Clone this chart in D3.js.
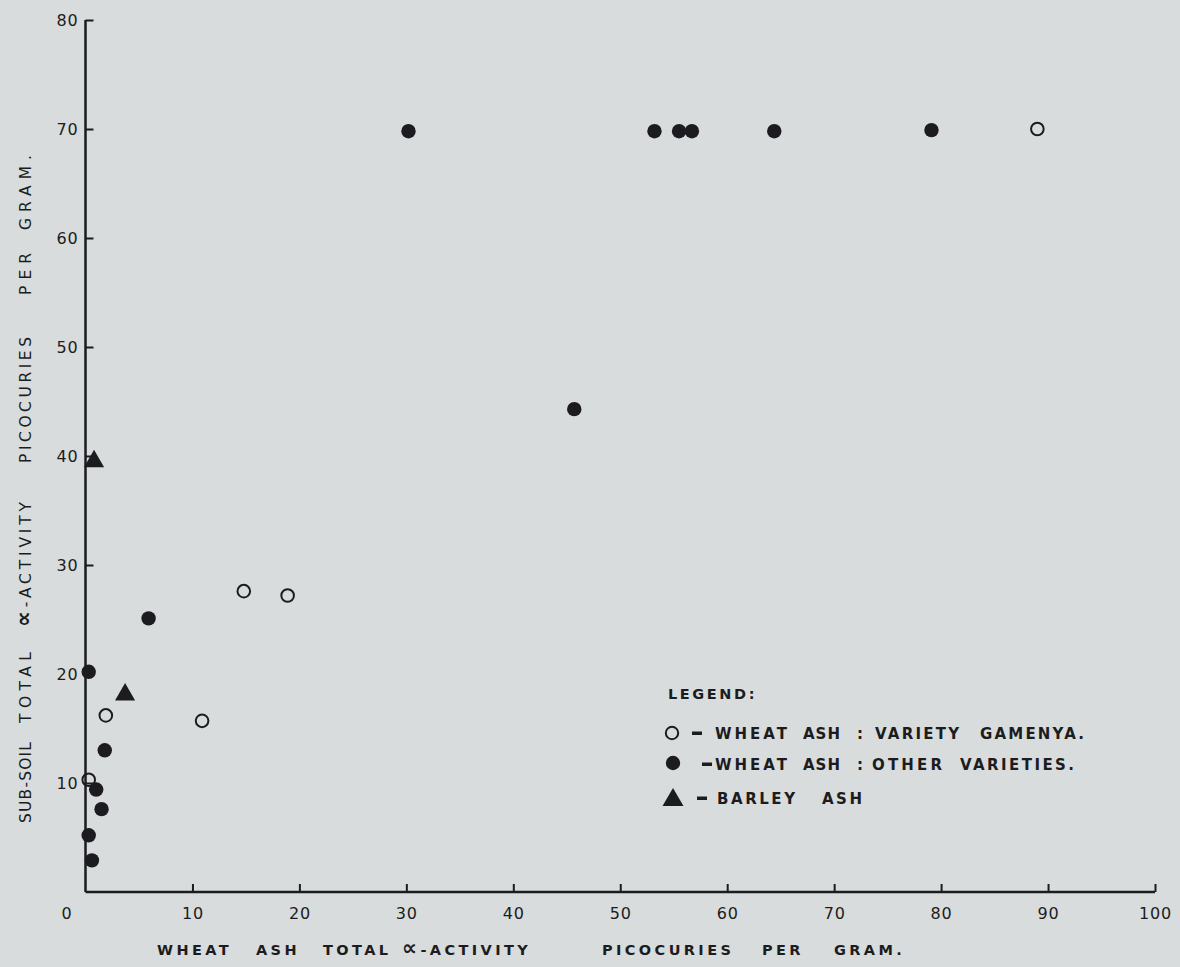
<!DOCTYPE html>
<html>
<head>
<meta charset="utf-8">
<script src="https://cdn.jsdelivr.net/npm/d3@7"></script>
<style>
  html, body { margin: 0; padding: 0; background: #d8dcdc; }
  svg { display: block; }
  text { font-family: "DejaVu Sans", sans-serif; fill: #1c1c20; }
</style>
</head>
<body>
<svg id="chart" width="1180" height="967"></svg>
<script>
// Wheat ash vs sub-soil total alpha-activity (picocuries per gram)
const xTicks = [0, 10, 20, 30, 40, 50, 60, 70, 80, 90, 100];
const yTicks = [10, 20, 30, 40, 50, 60, 70, 80];

// Wheat ash, variety Gamenya  [wheat ash, sub-soil]
const gamenya = [
  [0.3, 10.3], [1.9, 16.2], [10.9, 15.7], [14.8, 27.6], [18.9, 27.2], [89.0, 70.0]
];
// Wheat ash, other varieties
const otherVarieties = [
  [30.2, 69.8], [53.2, 69.8], [55.5, 69.8], [56.7, 69.8], [64.4, 69.8], [79.1, 69.9],
  [45.7, 44.3], [5.9, 25.1], [0.3, 20.2], [1.8, 13.0], [1.0, 9.4], [1.5, 7.6],
  [0.3, 5.2], [0.6, 2.9]
];
// Barley ash
const barley = [
  [0.8, 39.5], [3.7, 18.1]
];

const legendItems = [
  { type: "open",     words: ["WHEAT", "ASH", ":", "VARIETY", "GAMENYA."] },
  { type: "filled",   words: ["WHEAT", "ASH", ":", "OTHER", "VARIETIES."] },
  { type: "triangle", words: ["BARLEY", "ASH"] }
];

const xTitleWords = ["WHEAT", "ASH", "TOTAL", "\u221D-ACTIVITY", "PICOCURIES", "PER", "GRAM."];
const yTitleWords = ["SUB-SOIL", "TOTAL", "\u221D-ACTIVITY", "PICOCURIES", "PER", "GRAM."];

const ink = "#1c1c20";
const svg = d3.select("#chart");

const x = d3.scaleLinear().domain([0, 100]).range([85.5, 1155]);
const y = d3.scaleLinear().domain([0, 80]).range([892, 20]);

// axes: ticks point inward
const xAxis = d3.axisBottom(x).tickValues(xTicks).tickSize(-8).tickPadding(16).tickFormat(d3.format("d"));
const yAxis = d3.axisLeft(y).tickValues(yTicks).tickSize(-8).tickPadding(7).tickFormat(d3.format("d"));

const gx = svg.append("g").attr("transform", `translate(0,${y(0)})`).call(xAxis);
const gy = svg.append("g").attr("transform", `translate(${x(0)},0)`).call(yAxis);

[gx, gy].forEach(g => {
  g.select(".domain").attr("stroke", ink).attr("stroke-width", 2.5);
  g.selectAll(".tick line").attr("stroke", ink).attr("stroke-width", 2);
  g.selectAll(".tick text")
    .attr("font-family", "DejaVu Sans, sans-serif")
    .attr("font-size", 16)
    .attr("letter-spacing", 0.8)
    .attr("fill", "#26262b");
});
gx.select(".domain").attr("d", `M${x(0)},0H${x(100)}`);
gy.select(".domain").attr("d", `M0,${y(0)}V${y(80)}`);
// the origin label sits left of the corner, with no tick mark
gx.selectAll(".tick").filter(d => d === 0).select("text").attr("x", -19);
gx.selectAll(".tick").filter(d => d === 0).select("line").remove();

// writes one word; an optional length stretches its letter spacing
function word(parent, str, px, py, len, opts) {
  const t = parent.append("text")
    .attr("x", px).attr("y", py)
    .attr("font-size", opts.size)
    .attr("font-weight", opts.weight || "normal")
    .attr("fill", opts.fill || ink);
  if (len) t.attr("textLength", len).attr("lengthAdjust", "spacing");
  else if (opts.spacing) t.attr("letter-spacing", opts.spacing);
  if (str.startsWith("\u221D")) {
    t.append("tspan").attr("font-size", opts.size * 1.45).attr("font-weight", "bold").text("\u221D");
    t.append("tspan").text(str.slice(1));
  } else {
    t.text(str);
  }
  return t;
}

// x axis title
const xTitleX = [157, 256, 323, 402, 602, 762, 834];
const xt = svg.append("g");
xTitleWords.forEach((w, i) =>
  word(xt, w, xTitleX[i], 955, null, { size: 14.5, weight: "bold", spacing: 3.4 }));

// y axis title, reading upward
const yTitleY = [823, 723, 627, 463, 295, 230];
const yTitleLen = [81, 71, 125, 126, 42, 75];
const yt = svg.append("g").attr("transform", "rotate(-90)");
yTitleWords.forEach((w, i) =>
  word(yt, w, -yTitleY[i], 31, yTitleLen[i], { size: 15.5, fill: "#2a2a30" }));

// markers
const plot = svg.append("g");
const triangle = d3.symbol().type(d3.symbolTriangle).size(175);

plot.selectAll("circle.other").data(otherVarieties).join("circle")
  .attr("class", "other")
  .attr("cx", d => x(d[0])).attr("cy", d => y(d[1])).attr("r", 7.2)
  .attr("fill", ink);

plot.selectAll("circle.gamenya").data(gamenya).join("circle")
  .attr("class", "gamenya")
  .attr("cx", d => x(d[0])).attr("cy", d => y(d[1])).attr("r", 6.3)
  .attr("fill", "none").attr("stroke", ink).attr("stroke-width", 2);

plot.selectAll("path.barley").data(barley).join("path")
  .attr("class", "barley")
  .attr("transform", d => `translate(${x(d[0])},${y(d[1])})`)
  .attr("d", triangle)
  .attr("fill", ink);

// legend
const legend = svg.append("g");
word(legend, "LEGEND:", 668, 699, null, { size: 14.5, weight: "bold", spacing: 2.6, fill: "#202024" });

const rowY = [733, 764, 798];
const dashX = [692, 702, 697];
const wordX = [
  [715, 803, 857, 875, 980],
  [715, 803, 857, 872, 960],
  [717, 822]
];
const wordLen = [
  [72, 37, null, 84, 104],
  [72, 37, null, 70, 114],
  [78, 40]
];
legendItems.forEach((item, i) => {
  const cy = rowY[i];
  if (item.type === "open") {
    legend.append("circle").attr("cx", 672).attr("cy", cy).attr("r", 6.2)
      .attr("fill", "none").attr("stroke", ink).attr("stroke-width", 2);
  } else if (item.type === "filled") {
    legend.append("circle").attr("cx", 673).attr("cy", cy - 1).attr("r", 7.2)
      .attr("fill", ink);
  } else {
    legend.append("path").attr("transform", `translate(673,${cy + 2})`)
      .attr("d", d3.symbol().type(d3.symbolTriangle).size(190)).attr("fill", ink);
  }
  legend.append("rect").attr("x", dashX[i]).attr("y", cy - 1.5)
    .attr("width", 10).attr("height", 3.5).attr("fill", ink);
  item.words.forEach((w, j) =>
    word(legend, w, wordX[i][j], cy + 6, wordLen[i][j], { size: 15, weight: "bold" }));
});
</script>
</body>
</html>
